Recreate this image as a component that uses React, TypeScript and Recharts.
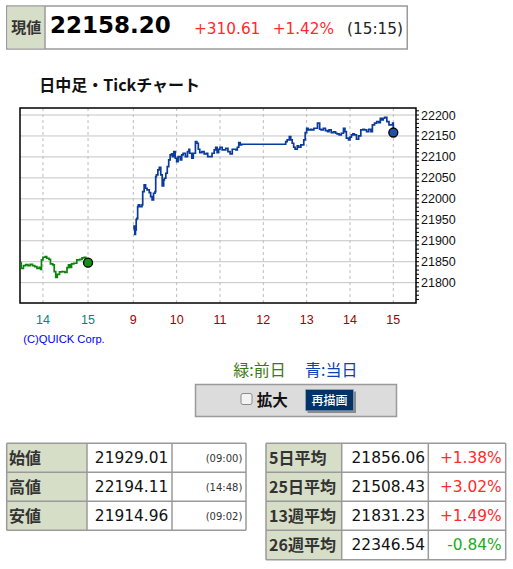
import React from "react";
import {
  LineChart,
  Line,
  XAxis,
  YAxis,
  CartesianGrid,
  ReferenceArea,
  ReferenceDot,
} from "recharts";

// ---------- data ----------
const prevTimes = [
  "13:30", "13:31", "13:34", "13:37", "13:40", "13:43", "13:46", "13:49", "13:52", "13:55",
  "13:57", "13:58", "14:00", "14:03", "14:05", "14:08", "14:10", "14:13", "14:15", "14:17",
  "14:19", "14:22", "14:25", "14:29", "14:32", "14:34", "14:36", "14:38", "14:41", "14:45",
  "14:49", "14:52", "14:55", "14:57", "14:59", "15:00",
];
const prevValues = [
  21847.8, 21834.3, 21840.7, 21843.1, 21840.7, 21843.9, 21840.7, 21838.3, 21834.3, 21836.7,
  21831.9, 21854.2, 21860.6, 21862.2, 21858.2, 21855.8, 21844.7, 21842.3, 21826.4, 21812.8,
  21820.0, 21825.6, 21826.4, 21824.8, 21835.9, 21842.3, 21836.7, 21844.7, 21846.3, 21854.2,
  21855.8, 21859.0, 21860.6, 21855.8, 21857.4, 21847.6,
];

const todayTimes = [
  "09:00", "09:01", "09:02", "09:03", "09:04", "09:05", "09:06", "09:07", "09:09", "09:12",
  "09:13", "09:15", "09:17", "09:19", "09:22", "09:24", "09:26", "09:28", "09:30", "09:31",
  "09:32", "09:34", "09:36", "09:38", "09:40", "09:42", "09:43", "09:45", "09:47", "09:49",
  "09:51", "09:53", "09:54", "09:56", "09:58", "10:00", "10:02", "10:05", "10:07", "10:09",
  "10:12", "10:15", "10:17", "10:18", "10:21", "10:23", "10:26", "10:28", "10:30", "10:32",
  "10:35", "10:38", "10:41", "10:43", "10:46", "10:49", "10:52", "10:54", "10:56", "10:58",
  "11:00", "11:03", "11:06", "11:08", "11:11", "11:14", "11:17", "11:19", "11:22", "11:24",
  "11:26", "11:28", "11:30", "12:30", "12:31", "12:33", "12:36", "12:38", "12:40", "12:42",
  "12:44", "12:47", "12:49", "12:52", "12:54", "12:56", "12:58", "13:00", "13:02", "13:05",
  "13:07", "13:10", "13:13", "13:15", "13:18", "13:20", "13:23", "13:26", "13:29", "13:31",
  "13:34", "13:37", "13:40", "13:42", "13:45", "13:48", "13:51", "13:53", "13:55", "13:58",
  "14:00", "14:02", "14:04", "14:06", "14:09", "14:12", "14:15", "14:18", "14:20", "14:23",
  "14:26", "14:29", "14:31", "14:34", "14:37", "14:40", "14:42", "14:44", "14:46", "14:48",
  "14:51", "14:54", "14:56", "14:59", "15:00",
];
const todayValues = [
  21929.0, 21935.0, 21915.0, 21925.8, 21951.2, 21953.6, 21981.5, 21985.5, 21981.5, 21985.5,
  22017.3, 22033.2, 22025.2, 22021.3, 22014.9, 22005.3, 21997.4, 22013.3, 22017.3, 22053.1,
  22057.1, 22069.0, 22075.4, 22057.1, 22030.8, 22045.1, 22049.1, 22061.0, 22076.9, 22092.9,
  22104.8, 22107.2, 22100.8, 22112.7, 22096.8, 22088.9, 22100.8, 22092.9, 22104.8, 22108.8,
  22100.8, 22112.7, 22118.3, 22108.8, 22096.8, 22108.8, 22136.6, 22132.6, 22118.3, 22110.4,
  22112.7, 22107.2, 22108.8, 22100.8, 22100.8, 22108.8, 22116.7, 22123.1, 22110.4, 22118.3,
  22123.1, 22116.7, 22116.7, 22120.7, 22112.7, 22107.2, 22118.3, 22118.3, 22116.7, 22123.1,
  22134.2, 22128.6, 22130.2, 22130.2, 22136.6, 22140.6, 22148.5, 22140.6, 22132.6, 22123.1,
  22118.3, 22126.3, 22123.1, 22128.6, 22128.6, 22140.6, 22158.1, 22168.4, 22164.4, 22166.0,
  22164.4, 22168.4, 22168.4, 22180.4, 22166.0, 22164.4, 22168.4, 22162.9, 22160.5, 22164.4,
  22158.1, 22159.7, 22156.5, 22154.9, 22152.5, 22156.5, 22168.4, 22160.5, 22144.6, 22140.6,
  22147.0, 22152.5, 22154.9, 22152.5, 22142.2, 22150.1, 22164.4, 22166.0, 22164.4, 22160.5,
  22166.0, 22160.5, 22176.4, 22180.4, 22184.3, 22182.0, 22192.3, 22188.3, 22192.3, 22194.1,
  22184.3, 22176.4, 22176.4, 22180.4, 22158.2,
];

const yMajorTicks = [21800, 21850, 21900, 21950, 22000, 22050, 22100, 22150, 22200];
const prevTickTimes = ["14:00", "15:00"];
const todayTickTimes = ["09:00", "10:00", "11:00", "12:00", "13:00", "14:00", "15:00"];
const xTickLabels = ["14", "15", "9", "10", "11", "12", "13", "14", "15"];

const headerPrice = "22158.20";
const headerChange = "+310.61";
const headerPct = "+1.42%";
const headerTime = "(15:15)";

const ohlLabels = ["始値", "高値", "安値"];
const ohlValues = ["21929.01", "22194.11", "21914.96"];
const ohlTimes = ["(09:00)", "(14:48)", "(09:02)"];

const avgLabels = ["5日平均", "25日平均", "13週平均", "26週平均"];
const avgValues = ["21856.06", "21508.43", "21831.23", "22346.54"];
const avgChanges = ["+1.38%", "+3.02%", "+1.49%", "-0.84%"];

// ---------- time axis mapping ----------
const toMin = (t: string) => {
  const [h, m] = t.split(":").map(Number);
  return h * 60 + m;
};
const prevX = (t: string) => -62.7 - (900 - toMin(t)) * 1.04;
const todayX = (t: string) => toMin(t) - 540;

const prevData = prevTimes.map((t, i) => ({ x: prevX(t), v: prevValues[i] }));
const todayData = todayTimes.map((t, i) => ({ x: todayX(t), v: todayValues[i] }));
const xTicks = [...prevTickTimes.map(prevX), ...todayTickTimes.map(todayX)];
const yAllTicks: number[] = [];
for (let v = 21760; v <= 22210; v += 10) yAllTicks.push(v);

const X_DOMAIN: [number, number] = [-156.9, 391.4];
const Y_DOMAIN: [number, number] = [21751.5, 22216.7];

const NUM = "'DejaVu Sans', Verdana, sans-serif";
const JP = "'Noto Sans CJK JP', sans-serif";
const AX = "'Liberation Sans Narrow', 'Liberation Sans', Arial, sans-serif";

const XTick = (props: any) => {
  const { x, y, index } = props;
  const isPrev = index < prevTickTimes.length;
  return (
    <text
      x={x}
      y={y + 13}
      textAnchor="middle"
      fontFamily={AX}
      fontSize={12.5}
      fill={isPrev ? "#0b7f80" : "#a00000"}
    >
      {xTickLabels[index]}
    </text>
  );
};

const YTick = (props: any) => {
  const { x, y, payload } = props;
  if (payload.value % 50 !== 0) return <g />;
  return (
    <text x={x} y={y + 4.5} textAnchor="start" fontFamily={AX} fontSize={12.5} fill="#111">
      {payload.value}
    </text>
  );
};

const LABEL_BG = "#d7dec8";
const BORDER = "#9a9a9a";

const Page = () => {
  const lRows = [443.3, 472.3, 501.3, 530.3];
  const lCols = [6.7, 87, 172, 246];
  const rRows = [443.3, 472.3, 501.3, 530.3, 559.7];
  const rCols = [266, 341.7, 428.3, 505.7];
  return (
    <svg width={513} height={569} style={{ position: "absolute", left: 0, top: 0 }}>
      {/* header */}
      <rect x={6.75} y={6} width={400.5} height={43} fill="#fff" stroke={BORDER} strokeWidth={1.5} />
      <rect x={7.5} y={6.75} width={37.5} height={41.5} fill={LABEL_BG} />
      <line x1={45} y1={6} x2={45} y2={49} stroke={BORDER} strokeWidth={1.5} />
      <text x={26.3} y={32.5} textAnchor="middle" fontFamily={JP} fontWeight={700} fontSize={15} fill="#333">
        現値
      </text>
      <text x={50} y={33.3} fontFamily={NUM} fontWeight={700} fontSize={23} fill="#000">
        {headerPrice}
      </text>
      <text x={194} y={34.3} fontFamily={NUM} fontSize={15.3} fill="#ff2a2a">
        {headerChange}
      </text>
      <text x={272.7} y={34.3} fontFamily={NUM} fontSize={15.3} fill="#ff2a2a">
        {headerPct}
      </text>
      <text x={347} y={34.3} fontFamily={NUM} fontSize={15.3} fill="#222">
        {headerTime}
      </text>

      {/* title */}
      <text x={39.3} y={91.2} fontFamily={JP} fontWeight={700} fontSize={16} fill="#111">
        日中足・Tickチャート
      </text>

      {/* copyright */}
      <text x={23.3} y={343.3} fontFamily="'Liberation Sans', Arial, sans-serif" fontSize={11.2} fill="#0000ff">
        (C)QUICK Corp.
      </text>

      {/* legend */}
      <text x={233.3} y={375.5} fontFamily={JP} fontSize={16}>
        <tspan fill="#3a7a10">緑:前日</tspan>
      </text>
      <text x={305} y={375.5} fontFamily={JP} fontSize={16}>
        <tspan fill="#1040b0">青:当日</tspan>
      </text>

      {/* control box */}
      <rect x={195.5} y={384.5} width={201} height={32} fill="#dcdcdc" stroke={BORDER} strokeWidth={1.5} />
      <rect x={241} y={393.5} width={11} height={11} rx={2} fill="#f3f3f3" stroke="#8a8a8a" strokeWidth={1} />
      <text x={256.7} y={405.5} fontFamily={JP} fontWeight={700} fontSize={15.5} fill="#111">
        拡大
      </text>
      <rect x={307.5} y={391.5} width={48.5} height={21.5} fill="#8a8a8a" />
      <rect x={305.5} y={389.5} width={48} height={21.3} fill="#003366" stroke="#9fb0c8" strokeWidth={0.6} />
      <text x={329.5} y={405.3} textAnchor="middle" fontFamily={JP} fontWeight={500} fontSize={12} fill="#fff">
        再描画
      </text>

      {/* left table */}
      <rect x={lCols[0]} y={lRows[0]} width={lCols[1] - lCols[0]} height={lRows[3] - lRows[0]} fill={LABEL_BG} />
      <rect x={lCols[1]} y={lRows[0]} width={lCols[3] - lCols[1]} height={lRows[3] - lRows[0]} fill="#fff" />
      {lRows.map((y, i) => (
        <line key={"lr" + i} x1={lCols[0]} y1={y} x2={lCols[3]} y2={y} stroke={BORDER} strokeWidth={1.5} />
      ))}
      {lCols.map((x, i) => (
        <line key={"lc" + i} x1={x} y1={lRows[0]} x2={x} y2={lRows[3]} stroke={BORDER} strokeWidth={1.5} />
      ))}
      {ohlLabels.map((l, i) => (
        <g key={"ol" + i}>
          <text x={9} y={lRows[i] + 20.2} fontFamily={JP} fontWeight={700} fontSize={16} fill="#333">
            {l}
          </text>
          <text x={168.3} y={lRows[i] + 20} textAnchor="end" fontFamily={NUM} fontSize={15.4} fill="#111">
            {ohlValues[i]}
          </text>
          <text x={242.3} y={lRows[i] + 18.4} textAnchor="end" fontFamily={NUM} fontSize={10} fill="#333">
            {ohlTimes[i]}
          </text>
        </g>
      ))}

      {/* right table */}
      <rect x={rCols[0]} y={rRows[0]} width={rCols[1] - rCols[0]} height={rRows[4] - rRows[0]} fill={LABEL_BG} />
      <rect x={rCols[1]} y={rRows[0]} width={rCols[3] - rCols[1]} height={rRows[4] - rRows[0]} fill="#fff" />
      {rRows.map((y, i) => (
        <line key={"rr" + i} x1={rCols[0]} y1={y} x2={rCols[3]} y2={y} stroke={BORDER} strokeWidth={1.5} />
      ))}
      {rCols.map((x, i) => (
        <line key={"rc" + i} x1={x} y1={rRows[0]} x2={x} y2={rRows[4]} stroke={BORDER} strokeWidth={1.5} />
      ))}
      {avgLabels.map((l, i) => (
        <g key={"al" + i}>
          <text x={269} y={rRows[i] + 20.2} fontFamily={JP} fontWeight={700} fontSize={16} fill="#333">
            {l}
          </text>
          <text x={425} y={rRows[i] + 20} textAnchor="end" fontFamily={NUM} fontSize={15.4} fill="#111">
            {avgValues[i]}
          </text>
          <text
            x={501.7}
            y={rRows[i] + 20}
            textAnchor="end"
            fontFamily={NUM}
            fontSize={15.4}
            fill={avgChanges[i].startsWith("-") ? "#22aa22" : "#ff2a2a"}
          >
            {avgChanges[i]}
          </text>
        </g>
      ))}
    </svg>
  );
};

export default function App() {
  const lastPrev = prevData[prevData.length - 1];
  const lastToday = todayData[todayData.length - 1];
  return (
    <div style={{ position: "absolute", left: 0, top: 0, width: 513, height: 569, background: "#fff" }}>
      <Page />
      <div style={{ position: "absolute", left: 0, top: 0 }}>
        <LineChart width={513} height={330} margin={{ top: 108, left: 20, right: 37, bottom: 7 }}>
          <CartesianGrid horizontal={true} vertical={false} stroke="#c4c4c4" horizontalValues={yMajorTicks} />
          <CartesianGrid horizontal={false} vertical={true} stroke="#bdbdbd" strokeDasharray="3 3" verticalValues={xTicks} />
          <XAxis
            type="number"
            dataKey="x"
            domain={X_DOMAIN}
            allowDataOverflow
            ticks={xTicks}
            interval={0}
            tick={<XTick />}
            tickLine={false}
            axisLine={false}
            height={20}
          />
          <YAxis
            orientation="right"
            type="number"
            dataKey="v"
            domain={Y_DOMAIN}
            allowDataOverflow
            ticks={yAllTicks}
            interval={0}
            tick={<YTick />}
            tickLine={{ stroke: "#000" }}
            tickSize={3}
            axisLine={false}
            width={60}
          />
          <Line
            data={prevData}
            dataKey="v"
            type="stepAfter"
            stroke="#0a840a"
            strokeWidth={1.7}
            dot={false}
            isAnimationActive={false}
          />
          <Line
            data={todayData}
            dataKey="v"
            type="stepAfter"
            stroke="#0a3a9a"
            strokeWidth={1.7}
            dot={false}
            isAnimationActive={false}
          />
          <ReferenceArea
            x1={X_DOMAIN[0]}
            x2={X_DOMAIN[1]}
            y1={Y_DOMAIN[0]}
            y2={Y_DOMAIN[1]}
            fill="none"
            fillOpacity={0}
            stroke="#000"
            strokeWidth={1.5}
            ifOverflow="visible"
          />
          <ReferenceDot x={lastPrev.x} y={lastPrev.v} r={4.5} fill="#1a8a1a" stroke="#000" strokeWidth={1.3} />
          <ReferenceDot x={lastToday.x} y={lastToday.v} r={4.5} fill="#1f4fa8" stroke="#000" strokeWidth={1.3} />
        </LineChart>
      </div>
    </div>
  );
}
